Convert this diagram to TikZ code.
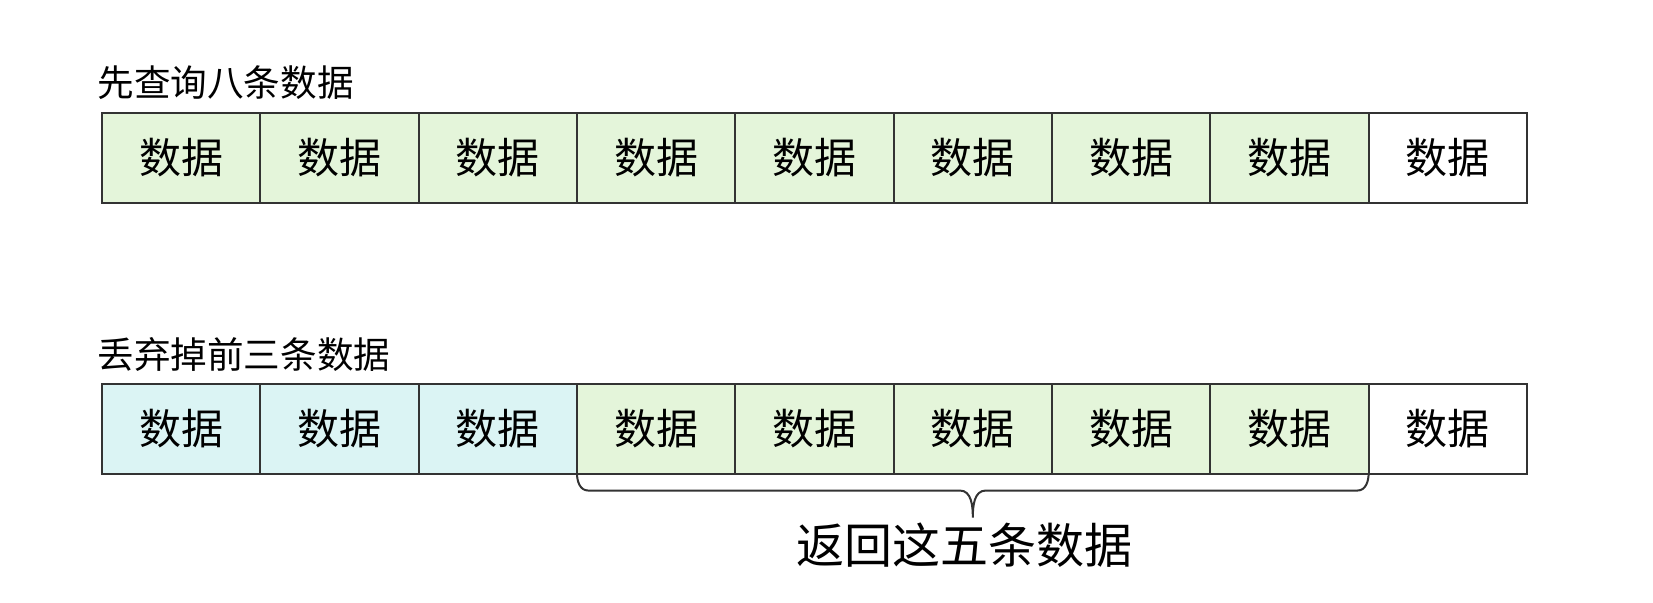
\documentclass[tikz,border=0pt]{standalone}
\usepackage{fontspec}
\setmainfont{Noto Sans CJK SC}
\usetikzlibrary{calc,positioning}
\definecolor{rowgreen}{RGB}{228,245,218}
\definecolor{rowcyan}{RGB}{219,244,244}
\definecolor{rowline}{RGB}{51,51,51}
\tikzset{
  cell/.style={draw=rowline,line width=1pt,minimum width=79.15pt,minimum height=45pt,
    inner sep=0pt,outer sep=0pt,anchor=west,font=\fontsize{21}{21}\selectfont},
  rowtitle/.style={anchor=west,inner sep=0pt,font=\fontsize{18.3}{18.3}\selectfont}
}

\begin{document}
\begin{tikzpicture}[x=.5pt,y=-.5pt]
  \useasboundingbox (0,0) rectangle (1653,602);
  % first query
  \node[rowtitle] (title1) at (97,83) {先查询八条数据};
  \foreach \i/\fillcol in {1/rowgreen,2/rowgreen,3/rowgreen,4/rowgreen,5/rowgreen,
      6/rowgreen,7/rowgreen,8/rowgreen,9/white}
    \node[cell,fill=\fillcol] (top\i) at ({102+(\i-1)*158.33},158) {数据};
  % after dropping
  \node[rowtitle] (title2) at (97,354) {丢弃掉前三条数据};
  \foreach \i/\fillcol in {1/rowcyan,2/rowcyan,3/rowcyan,4/rowgreen,5/rowgreen,
      6/rowgreen,7/rowgreen,8/rowgreen,9/white}
    \node[cell,fill=\fillcol] (low\i) at ({102+(\i-1)*158.33},428.5) {数据};
  % brace under the kept rows
  \coordinate (tip) at ($(low4.south west)!.5!(low8.south east)+(0,44)$);
  \draw[rowline,line width=1pt] (low4.south west) to[out=-90,in=180] ($(low4.south west)+(11,17)$)
    -- ($(tip)+(-13,-27)$) to[out=0,in=90] (tip) to[out=90,in=180] ($(tip)+(13,-27)$)
    -- ($(low8.south east)+(-11,17)$) to[out=0,in=-90] (low8.south east);
  \node[font=\fontsize{24}{24}\selectfont,inner sep=0pt] (result) at (964,545) {返回这五条数据};
\end{tikzpicture}
\end{document}
